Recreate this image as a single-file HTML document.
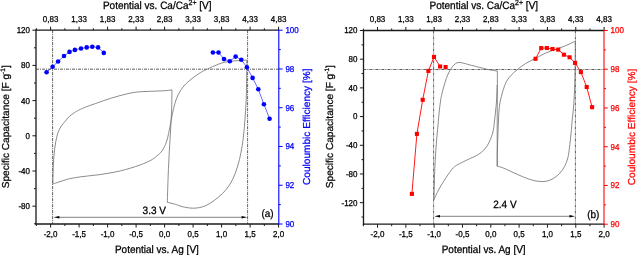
<!DOCTYPE html>
<html><head><meta charset="utf-8"><style>
html,body{margin:0;padding:0;background:#fff;width:637px;height:255px;overflow:hidden;}
body{position:relative;font-family:'Liberation Sans', sans-serif;}
</style></head><body>
<svg width="637" height="255" viewBox="0 0 637 255" style="position:absolute;left:0;top:0;font-family:'Liberation Sans', sans-serif;text-rendering:geometricPrecision;will-change:transform">
<line x1="36" y1="29.6" x2="36" y2="224.6" stroke="#1a1a1a" stroke-width="1.3" />
<line x1="35.4" y1="224" x2="278.8" y2="224" stroke="#1a1a1a" stroke-width="1.3" />
<line x1="35.4" y1="30.2" x2="278.8" y2="30.2" stroke="#1a1a1a" stroke-width="1.3" />
<line x1="50.6" y1="224" x2="50.6" y2="227.5" stroke="#1a1a1a" stroke-width="1.0" />
<line x1="50.6" y1="30.2" x2="50.6" y2="26.7" stroke="#1a1a1a" stroke-width="1.0" />
<text transform="translate(50.6,236.9) scale(1,1.07)" font-size="8" text-anchor="middle" fill="#000" stroke="#000" stroke-width="0.25" >-2,0</text>
<text transform="translate(50.6,22.1) scale(1,1.07)" font-size="8" text-anchor="middle" fill="#000" stroke="#000" stroke-width="0.25" >0,83</text>
<line x1="79.1" y1="224" x2="79.1" y2="227.5" stroke="#1a1a1a" stroke-width="1.0" />
<line x1="79.1" y1="30.2" x2="79.1" y2="26.7" stroke="#1a1a1a" stroke-width="1.0" />
<text transform="translate(79.1,236.9) scale(1,1.07)" font-size="8" text-anchor="middle" fill="#000" stroke="#000" stroke-width="0.25" >-1,5</text>
<text transform="translate(79.1,22.1) scale(1,1.07)" font-size="8" text-anchor="middle" fill="#000" stroke="#000" stroke-width="0.25" >1,33</text>
<line x1="107.6" y1="224" x2="107.6" y2="227.5" stroke="#1a1a1a" stroke-width="1.0" />
<line x1="107.6" y1="30.2" x2="107.6" y2="26.7" stroke="#1a1a1a" stroke-width="1.0" />
<text transform="translate(107.6,236.9) scale(1,1.07)" font-size="8" text-anchor="middle" fill="#000" stroke="#000" stroke-width="0.25" >-1,0</text>
<text transform="translate(107.6,22.1) scale(1,1.07)" font-size="8" text-anchor="middle" fill="#000" stroke="#000" stroke-width="0.25" >1,83</text>
<line x1="136.1" y1="224" x2="136.1" y2="227.5" stroke="#1a1a1a" stroke-width="1.0" />
<line x1="136.1" y1="30.2" x2="136.1" y2="26.7" stroke="#1a1a1a" stroke-width="1.0" />
<text transform="translate(136.1,236.9) scale(1,1.07)" font-size="8" text-anchor="middle" fill="#000" stroke="#000" stroke-width="0.25" >-0,5</text>
<text transform="translate(136.1,22.1) scale(1,1.07)" font-size="8" text-anchor="middle" fill="#000" stroke="#000" stroke-width="0.25" >2,33</text>
<line x1="164.6" y1="224" x2="164.6" y2="227.5" stroke="#1a1a1a" stroke-width="1.0" />
<line x1="164.6" y1="30.2" x2="164.6" y2="26.7" stroke="#1a1a1a" stroke-width="1.0" />
<text transform="translate(164.6,236.9) scale(1,1.07)" font-size="8" text-anchor="middle" fill="#000" stroke="#000" stroke-width="0.25" >0,0</text>
<text transform="translate(164.6,22.1) scale(1,1.07)" font-size="8" text-anchor="middle" fill="#000" stroke="#000" stroke-width="0.25" >2,83</text>
<line x1="193.1" y1="224" x2="193.1" y2="227.5" stroke="#1a1a1a" stroke-width="1.0" />
<line x1="193.1" y1="30.2" x2="193.1" y2="26.7" stroke="#1a1a1a" stroke-width="1.0" />
<text transform="translate(193.1,236.9) scale(1,1.07)" font-size="8" text-anchor="middle" fill="#000" stroke="#000" stroke-width="0.25" >0,5</text>
<text transform="translate(193.1,22.1) scale(1,1.07)" font-size="8" text-anchor="middle" fill="#000" stroke="#000" stroke-width="0.25" >3,33</text>
<line x1="221.6" y1="224" x2="221.6" y2="227.5" stroke="#1a1a1a" stroke-width="1.0" />
<line x1="221.6" y1="30.2" x2="221.6" y2="26.7" stroke="#1a1a1a" stroke-width="1.0" />
<text transform="translate(221.6,236.9) scale(1,1.07)" font-size="8" text-anchor="middle" fill="#000" stroke="#000" stroke-width="0.25" >1,0</text>
<text transform="translate(221.6,22.1) scale(1,1.07)" font-size="8" text-anchor="middle" fill="#000" stroke="#000" stroke-width="0.25" >3,83</text>
<line x1="250.1" y1="224" x2="250.1" y2="227.5" stroke="#1a1a1a" stroke-width="1.0" />
<line x1="250.1" y1="30.2" x2="250.1" y2="26.7" stroke="#1a1a1a" stroke-width="1.0" />
<text transform="translate(250.1,236.9) scale(1,1.07)" font-size="8" text-anchor="middle" fill="#000" stroke="#000" stroke-width="0.25" >1,5</text>
<text transform="translate(250.1,22.1) scale(1,1.07)" font-size="8" text-anchor="middle" fill="#000" stroke="#000" stroke-width="0.25" >4,33</text>
<line x1="278.6" y1="224" x2="278.6" y2="227.5" stroke="#1a1a1a" stroke-width="1.0" />
<line x1="278.6" y1="30.2" x2="278.6" y2="26.7" stroke="#1a1a1a" stroke-width="1.0" />
<text transform="translate(278.6,236.9) scale(1,1.07)" font-size="8" text-anchor="middle" fill="#000" stroke="#000" stroke-width="0.25" >2,0</text>
<text transform="translate(278.6,22.1) scale(1,1.07)" font-size="8" text-anchor="middle" fill="#000" stroke="#000" stroke-width="0.25" >4,83</text>
<line x1="36.35" y1="224" x2="36.35" y2="226" stroke="#1a1a1a" stroke-width="1.0" />
<line x1="36.35" y1="30.2" x2="36.35" y2="28.2" stroke="#1a1a1a" stroke-width="1.0" />
<line x1="64.85" y1="224" x2="64.85" y2="226" stroke="#1a1a1a" stroke-width="1.0" />
<line x1="64.85" y1="30.2" x2="64.85" y2="28.2" stroke="#1a1a1a" stroke-width="1.0" />
<line x1="93.35" y1="224" x2="93.35" y2="226" stroke="#1a1a1a" stroke-width="1.0" />
<line x1="93.35" y1="30.2" x2="93.35" y2="28.2" stroke="#1a1a1a" stroke-width="1.0" />
<line x1="121.85" y1="224" x2="121.85" y2="226" stroke="#1a1a1a" stroke-width="1.0" />
<line x1="121.85" y1="30.2" x2="121.85" y2="28.2" stroke="#1a1a1a" stroke-width="1.0" />
<line x1="150.35" y1="224" x2="150.35" y2="226" stroke="#1a1a1a" stroke-width="1.0" />
<line x1="150.35" y1="30.2" x2="150.35" y2="28.2" stroke="#1a1a1a" stroke-width="1.0" />
<line x1="178.85" y1="224" x2="178.85" y2="226" stroke="#1a1a1a" stroke-width="1.0" />
<line x1="178.85" y1="30.2" x2="178.85" y2="28.2" stroke="#1a1a1a" stroke-width="1.0" />
<line x1="207.35" y1="224" x2="207.35" y2="226" stroke="#1a1a1a" stroke-width="1.0" />
<line x1="207.35" y1="30.2" x2="207.35" y2="28.2" stroke="#1a1a1a" stroke-width="1.0" />
<line x1="235.85" y1="224" x2="235.85" y2="226" stroke="#1a1a1a" stroke-width="1.0" />
<line x1="235.85" y1="30.2" x2="235.85" y2="28.2" stroke="#1a1a1a" stroke-width="1.0" />
<line x1="264.35" y1="224" x2="264.35" y2="226" stroke="#1a1a1a" stroke-width="1.0" />
<line x1="264.35" y1="30.2" x2="264.35" y2="28.2" stroke="#1a1a1a" stroke-width="1.0" />
<line x1="32.4" y1="30.2" x2="36" y2="30.2" stroke="#1a1a1a" stroke-width="1.0" />
<text transform="translate(30,33.1) scale(1,1.07)" font-size="8" text-anchor="end" fill="#000" stroke="#000" stroke-width="0.25" >120</text>
<line x1="32.4" y1="65.4" x2="36" y2="65.4" stroke="#1a1a1a" stroke-width="1.0" />
<text transform="translate(30,68.3) scale(1,1.07)" font-size="8" text-anchor="end" fill="#000" stroke="#000" stroke-width="0.25" >80</text>
<line x1="32.4" y1="100.6" x2="36" y2="100.6" stroke="#1a1a1a" stroke-width="1.0" />
<text transform="translate(30,103.5) scale(1,1.07)" font-size="8" text-anchor="end" fill="#000" stroke="#000" stroke-width="0.25" >40</text>
<line x1="32.4" y1="135.8" x2="36" y2="135.8" stroke="#1a1a1a" stroke-width="1.0" />
<text transform="translate(30,138.7) scale(1,1.07)" font-size="8" text-anchor="end" fill="#000" stroke="#000" stroke-width="0.25" >0</text>
<line x1="32.4" y1="171" x2="36" y2="171" stroke="#1a1a1a" stroke-width="1.0" />
<text transform="translate(30,173.9) scale(1,1.07)" font-size="8" text-anchor="end" fill="#000" stroke="#000" stroke-width="0.25" >-40</text>
<line x1="32.4" y1="206.2" x2="36" y2="206.2" stroke="#1a1a1a" stroke-width="1.0" />
<text transform="translate(30,209.1) scale(1,1.07)" font-size="8" text-anchor="end" fill="#000" stroke="#000" stroke-width="0.25" >-80</text>
<line x1="34" y1="47.8" x2="36" y2="47.8" stroke="#1a1a1a" stroke-width="1.0" />
<line x1="34" y1="83" x2="36" y2="83" stroke="#1a1a1a" stroke-width="1.0" />
<line x1="34" y1="118.2" x2="36" y2="118.2" stroke="#1a1a1a" stroke-width="1.0" />
<line x1="34" y1="153.4" x2="36" y2="153.4" stroke="#1a1a1a" stroke-width="1.0" />
<line x1="34" y1="188.6" x2="36" y2="188.6" stroke="#1a1a1a" stroke-width="1.0" />
<line x1="34" y1="223.8" x2="36" y2="223.8" stroke="#1a1a1a" stroke-width="1.0" />
<line x1="278.8" y1="29.7" x2="278.8" y2="224.5" stroke="#0000ff" stroke-width="1.1" />
<line x1="278.8" y1="224" x2="282.6" y2="224" stroke="#0000ff" stroke-width="1.0" />
<text transform="translate(285.4,226.9) scale(1,1.07)" font-size="8" text-anchor="start" fill="#0000ff" stroke="#0000ff" stroke-width="0.25" >90</text>
<line x1="278.8" y1="185.24" x2="282.6" y2="185.24" stroke="#0000ff" stroke-width="1.0" />
<text transform="translate(285.4,188.14) scale(1,1.07)" font-size="8" text-anchor="start" fill="#0000ff" stroke="#0000ff" stroke-width="0.25" >92</text>
<line x1="278.8" y1="146.48" x2="282.6" y2="146.48" stroke="#0000ff" stroke-width="1.0" />
<text transform="translate(285.4,149.38) scale(1,1.07)" font-size="8" text-anchor="start" fill="#0000ff" stroke="#0000ff" stroke-width="0.25" >94</text>
<line x1="278.8" y1="107.72" x2="282.6" y2="107.72" stroke="#0000ff" stroke-width="1.0" />
<text transform="translate(285.4,110.62) scale(1,1.07)" font-size="8" text-anchor="start" fill="#0000ff" stroke="#0000ff" stroke-width="0.25" >96</text>
<line x1="278.8" y1="68.96" x2="282.6" y2="68.96" stroke="#0000ff" stroke-width="1.0" />
<text transform="translate(285.4,71.86) scale(1,1.07)" font-size="8" text-anchor="start" fill="#0000ff" stroke="#0000ff" stroke-width="0.25" >98</text>
<line x1="278.8" y1="30.2" x2="282.6" y2="30.2" stroke="#0000ff" stroke-width="1.0" />
<text transform="translate(285.4,33.1) scale(1,1.07)" font-size="8" text-anchor="start" fill="#0000ff" stroke="#0000ff" stroke-width="0.25" >100</text>
<line x1="278.8" y1="204.62" x2="280.8" y2="204.62" stroke="#0000ff" stroke-width="1.0" />
<line x1="278.8" y1="165.86" x2="280.8" y2="165.86" stroke="#0000ff" stroke-width="1.0" />
<line x1="278.8" y1="127.1" x2="280.8" y2="127.1" stroke="#0000ff" stroke-width="1.0" />
<line x1="278.8" y1="88.34" x2="280.8" y2="88.34" stroke="#0000ff" stroke-width="1.0" />
<line x1="278.8" y1="49.58" x2="280.8" y2="49.58" stroke="#0000ff" stroke-width="1.0" />
<line x1="363.5" y1="29.9" x2="363.5" y2="224.8" stroke="#1a1a1a" stroke-width="1.3" />
<line x1="362.9" y1="224.2" x2="604" y2="224.2" stroke="#1a1a1a" stroke-width="1.3" />
<line x1="362.9" y1="30.5" x2="604" y2="30.5" stroke="#1a1a1a" stroke-width="1.3" />
<line x1="377.5" y1="224.2" x2="377.5" y2="227.7" stroke="#1a1a1a" stroke-width="1.0" />
<line x1="377.5" y1="30.5" x2="377.5" y2="27" stroke="#1a1a1a" stroke-width="1.0" />
<text transform="translate(377.5,237.1) scale(1,1.07)" font-size="8" text-anchor="middle" fill="#000" stroke="#000" stroke-width="0.25" >-2,0</text>
<text transform="translate(377.5,22.4) scale(1,1.07)" font-size="8" text-anchor="middle" fill="#000" stroke="#000" stroke-width="0.25" >0,83</text>
<line x1="405.83" y1="224.2" x2="405.83" y2="227.7" stroke="#1a1a1a" stroke-width="1.0" />
<line x1="405.83" y1="30.5" x2="405.83" y2="27" stroke="#1a1a1a" stroke-width="1.0" />
<text transform="translate(405.83,237.1) scale(1,1.07)" font-size="8" text-anchor="middle" fill="#000" stroke="#000" stroke-width="0.25" >-1,5</text>
<text transform="translate(405.83,22.4) scale(1,1.07)" font-size="8" text-anchor="middle" fill="#000" stroke="#000" stroke-width="0.25" >1,33</text>
<line x1="434.15" y1="224.2" x2="434.15" y2="227.7" stroke="#1a1a1a" stroke-width="1.0" />
<line x1="434.15" y1="30.5" x2="434.15" y2="27" stroke="#1a1a1a" stroke-width="1.0" />
<text transform="translate(434.15,237.1) scale(1,1.07)" font-size="8" text-anchor="middle" fill="#000" stroke="#000" stroke-width="0.25" >-1,0</text>
<text transform="translate(434.15,22.4) scale(1,1.07)" font-size="8" text-anchor="middle" fill="#000" stroke="#000" stroke-width="0.25" >1,83</text>
<line x1="462.48" y1="224.2" x2="462.48" y2="227.7" stroke="#1a1a1a" stroke-width="1.0" />
<line x1="462.48" y1="30.5" x2="462.48" y2="27" stroke="#1a1a1a" stroke-width="1.0" />
<text transform="translate(462.48,237.1) scale(1,1.07)" font-size="8" text-anchor="middle" fill="#000" stroke="#000" stroke-width="0.25" >-0,5</text>
<text transform="translate(462.48,22.4) scale(1,1.07)" font-size="8" text-anchor="middle" fill="#000" stroke="#000" stroke-width="0.25" >2,33</text>
<line x1="490.8" y1="224.2" x2="490.8" y2="227.7" stroke="#1a1a1a" stroke-width="1.0" />
<line x1="490.8" y1="30.5" x2="490.8" y2="27" stroke="#1a1a1a" stroke-width="1.0" />
<text transform="translate(490.8,237.1) scale(1,1.07)" font-size="8" text-anchor="middle" fill="#000" stroke="#000" stroke-width="0.25" >0,0</text>
<text transform="translate(490.8,22.4) scale(1,1.07)" font-size="8" text-anchor="middle" fill="#000" stroke="#000" stroke-width="0.25" >2,83</text>
<line x1="519.12" y1="224.2" x2="519.12" y2="227.7" stroke="#1a1a1a" stroke-width="1.0" />
<line x1="519.12" y1="30.5" x2="519.12" y2="27" stroke="#1a1a1a" stroke-width="1.0" />
<text transform="translate(519.12,237.1) scale(1,1.07)" font-size="8" text-anchor="middle" fill="#000" stroke="#000" stroke-width="0.25" >0,5</text>
<text transform="translate(519.12,22.4) scale(1,1.07)" font-size="8" text-anchor="middle" fill="#000" stroke="#000" stroke-width="0.25" >3,33</text>
<line x1="547.45" y1="224.2" x2="547.45" y2="227.7" stroke="#1a1a1a" stroke-width="1.0" />
<line x1="547.45" y1="30.5" x2="547.45" y2="27" stroke="#1a1a1a" stroke-width="1.0" />
<text transform="translate(547.45,237.1) scale(1,1.07)" font-size="8" text-anchor="middle" fill="#000" stroke="#000" stroke-width="0.25" >1,0</text>
<text transform="translate(547.45,22.4) scale(1,1.07)" font-size="8" text-anchor="middle" fill="#000" stroke="#000" stroke-width="0.25" >3,83</text>
<line x1="575.77" y1="224.2" x2="575.77" y2="227.7" stroke="#1a1a1a" stroke-width="1.0" />
<line x1="575.77" y1="30.5" x2="575.77" y2="27" stroke="#1a1a1a" stroke-width="1.0" />
<text transform="translate(575.77,237.1) scale(1,1.07)" font-size="8" text-anchor="middle" fill="#000" stroke="#000" stroke-width="0.25" >1,5</text>
<text transform="translate(575.77,22.4) scale(1,1.07)" font-size="8" text-anchor="middle" fill="#000" stroke="#000" stroke-width="0.25" >4,33</text>
<line x1="604.1" y1="224.2" x2="604.1" y2="227.7" stroke="#1a1a1a" stroke-width="1.0" />
<line x1="604.1" y1="30.5" x2="604.1" y2="27" stroke="#1a1a1a" stroke-width="1.0" />
<text transform="translate(604.1,237.1) scale(1,1.07)" font-size="8" text-anchor="middle" fill="#000" stroke="#000" stroke-width="0.25" >2,0</text>
<text transform="translate(604.1,22.4) scale(1,1.07)" font-size="8" text-anchor="middle" fill="#000" stroke="#000" stroke-width="0.25" >4,83</text>
<line x1="363.34" y1="224.2" x2="363.34" y2="226.2" stroke="#1a1a1a" stroke-width="1.0" />
<line x1="363.34" y1="30.5" x2="363.34" y2="28.5" stroke="#1a1a1a" stroke-width="1.0" />
<line x1="391.66" y1="224.2" x2="391.66" y2="226.2" stroke="#1a1a1a" stroke-width="1.0" />
<line x1="391.66" y1="30.5" x2="391.66" y2="28.5" stroke="#1a1a1a" stroke-width="1.0" />
<line x1="419.99" y1="224.2" x2="419.99" y2="226.2" stroke="#1a1a1a" stroke-width="1.0" />
<line x1="419.99" y1="30.5" x2="419.99" y2="28.5" stroke="#1a1a1a" stroke-width="1.0" />
<line x1="448.31" y1="224.2" x2="448.31" y2="226.2" stroke="#1a1a1a" stroke-width="1.0" />
<line x1="448.31" y1="30.5" x2="448.31" y2="28.5" stroke="#1a1a1a" stroke-width="1.0" />
<line x1="476.64" y1="224.2" x2="476.64" y2="226.2" stroke="#1a1a1a" stroke-width="1.0" />
<line x1="476.64" y1="30.5" x2="476.64" y2="28.5" stroke="#1a1a1a" stroke-width="1.0" />
<line x1="504.96" y1="224.2" x2="504.96" y2="226.2" stroke="#1a1a1a" stroke-width="1.0" />
<line x1="504.96" y1="30.5" x2="504.96" y2="28.5" stroke="#1a1a1a" stroke-width="1.0" />
<line x1="533.29" y1="224.2" x2="533.29" y2="226.2" stroke="#1a1a1a" stroke-width="1.0" />
<line x1="533.29" y1="30.5" x2="533.29" y2="28.5" stroke="#1a1a1a" stroke-width="1.0" />
<line x1="561.61" y1="224.2" x2="561.61" y2="226.2" stroke="#1a1a1a" stroke-width="1.0" />
<line x1="561.61" y1="30.5" x2="561.61" y2="28.5" stroke="#1a1a1a" stroke-width="1.0" />
<line x1="589.94" y1="224.2" x2="589.94" y2="226.2" stroke="#1a1a1a" stroke-width="1.0" />
<line x1="589.94" y1="30.5" x2="589.94" y2="28.5" stroke="#1a1a1a" stroke-width="1.0" />
<line x1="359.9" y1="30.5" x2="363.5" y2="30.5" stroke="#1a1a1a" stroke-width="1.0" />
<text transform="translate(357.5,33.4) scale(1,1.07)" font-size="8" text-anchor="end" fill="#000" stroke="#000" stroke-width="0.25" >120</text>
<line x1="359.9" y1="59.2" x2="363.5" y2="59.2" stroke="#1a1a1a" stroke-width="1.0" />
<text transform="translate(357.5,62.1) scale(1,1.07)" font-size="8" text-anchor="end" fill="#000" stroke="#000" stroke-width="0.25" >80</text>
<line x1="359.9" y1="87.89" x2="363.5" y2="87.89" stroke="#1a1a1a" stroke-width="1.0" />
<text transform="translate(357.5,90.79) scale(1,1.07)" font-size="8" text-anchor="end" fill="#000" stroke="#000" stroke-width="0.25" >40</text>
<line x1="359.9" y1="116.59" x2="363.5" y2="116.59" stroke="#1a1a1a" stroke-width="1.0" />
<text transform="translate(357.5,119.49) scale(1,1.07)" font-size="8" text-anchor="end" fill="#000" stroke="#000" stroke-width="0.25" >0</text>
<line x1="359.9" y1="145.29" x2="363.5" y2="145.29" stroke="#1a1a1a" stroke-width="1.0" />
<text transform="translate(357.5,148.19) scale(1,1.07)" font-size="8" text-anchor="end" fill="#000" stroke="#000" stroke-width="0.25" >-40</text>
<line x1="359.9" y1="173.98" x2="363.5" y2="173.98" stroke="#1a1a1a" stroke-width="1.0" />
<text transform="translate(357.5,176.88) scale(1,1.07)" font-size="8" text-anchor="end" fill="#000" stroke="#000" stroke-width="0.25" >-80</text>
<line x1="359.9" y1="202.68" x2="363.5" y2="202.68" stroke="#1a1a1a" stroke-width="1.0" />
<text transform="translate(357.5,205.58) scale(1,1.07)" font-size="8" text-anchor="end" fill="#000" stroke="#000" stroke-width="0.25" >-120</text>
<line x1="361.5" y1="44.85" x2="363.5" y2="44.85" stroke="#1a1a1a" stroke-width="1.0" />
<line x1="361.5" y1="73.55" x2="363.5" y2="73.55" stroke="#1a1a1a" stroke-width="1.0" />
<line x1="361.5" y1="102.24" x2="363.5" y2="102.24" stroke="#1a1a1a" stroke-width="1.0" />
<line x1="361.5" y1="130.94" x2="363.5" y2="130.94" stroke="#1a1a1a" stroke-width="1.0" />
<line x1="361.5" y1="159.63" x2="363.5" y2="159.63" stroke="#1a1a1a" stroke-width="1.0" />
<line x1="361.5" y1="188.33" x2="363.5" y2="188.33" stroke="#1a1a1a" stroke-width="1.0" />
<line x1="361.5" y1="217.03" x2="363.5" y2="217.03" stroke="#1a1a1a" stroke-width="1.0" />
<line x1="604" y1="30" x2="604" y2="224.7" stroke="#ff0000" stroke-width="1.1" />
<line x1="604" y1="224.2" x2="607.8" y2="224.2" stroke="#ff0000" stroke-width="1.0" />
<text transform="translate(610.6,227.1) scale(1,1.07)" font-size="8" text-anchor="start" fill="#ff0000" stroke="#ff0000" stroke-width="0.25" >90</text>
<line x1="604" y1="185.46" x2="607.8" y2="185.46" stroke="#ff0000" stroke-width="1.0" />
<text transform="translate(610.6,188.36) scale(1,1.07)" font-size="8" text-anchor="start" fill="#ff0000" stroke="#ff0000" stroke-width="0.25" >92</text>
<line x1="604" y1="146.72" x2="607.8" y2="146.72" stroke="#ff0000" stroke-width="1.0" />
<text transform="translate(610.6,149.62) scale(1,1.07)" font-size="8" text-anchor="start" fill="#ff0000" stroke="#ff0000" stroke-width="0.25" >94</text>
<line x1="604" y1="107.98" x2="607.8" y2="107.98" stroke="#ff0000" stroke-width="1.0" />
<text transform="translate(610.6,110.88) scale(1,1.07)" font-size="8" text-anchor="start" fill="#ff0000" stroke="#ff0000" stroke-width="0.25" >96</text>
<line x1="604" y1="69.24" x2="607.8" y2="69.24" stroke="#ff0000" stroke-width="1.0" />
<text transform="translate(610.6,72.14) scale(1,1.07)" font-size="8" text-anchor="start" fill="#ff0000" stroke="#ff0000" stroke-width="0.25" >98</text>
<line x1="604" y1="30.5" x2="607.8" y2="30.5" stroke="#ff0000" stroke-width="1.0" />
<text transform="translate(610.6,33.4) scale(1,1.07)" font-size="8" text-anchor="start" fill="#ff0000" stroke="#ff0000" stroke-width="0.25" >100</text>
<line x1="604" y1="204.83" x2="606" y2="204.83" stroke="#ff0000" stroke-width="1.0" />
<line x1="604" y1="166.09" x2="606" y2="166.09" stroke="#ff0000" stroke-width="1.0" />
<line x1="604" y1="127.35" x2="606" y2="127.35" stroke="#ff0000" stroke-width="1.0" />
<line x1="604" y1="88.61" x2="606" y2="88.61" stroke="#ff0000" stroke-width="1.0" />
<line x1="604" y1="49.87" x2="606" y2="49.87" stroke="#ff0000" stroke-width="1.0" />
<line x1="52.6" y1="30.2" x2="52.6" y2="224" stroke="#333" stroke-width="0.8" stroke-dasharray="3,1,1,1"/>
<line x1="247.6" y1="30.2" x2="247.6" y2="224" stroke="#333" stroke-width="0.8" stroke-dasharray="3,1,1,1"/>
<line x1="36" y1="69.2" x2="278.8" y2="69.2" stroke="#333" stroke-width="0.8" stroke-dasharray="3,1,1,1"/>
<line x1="58.5" y1="217.3" x2="242" y2="217.3" stroke="#000" stroke-width="0.5" />
<path d="M53.6,217.3 L59.4,216.0 L59.4,218.6Z" fill="#000"/>
<path d="M247.2,217.3 L241.6,216.0 L241.6,218.6Z" fill="#000"/>
<text transform="translate(142.6,214) scale(1,1.07)" font-size="10" text-anchor="start" fill="#000" stroke="#000" stroke-width="0.25" >3.3 V</text>
<text transform="translate(261.4,216.8) scale(1,1.07)" font-size="10" text-anchor="start" fill="#000" stroke="#000" stroke-width="0.25" >(a)</text>
<path d="M52.8,184 C52.83,182.5 52.92,178 53,175 C53.08,172 53.17,168.92 53.3,166 C53.43,163.08 53.58,160.28 53.8,157.5 C54.02,154.72 54.25,152.03 54.6,149.3 C54.95,146.57 55.35,143.85 55.9,141.1 C56.45,138.35 57.02,135.28 57.9,132.8 C58.78,130.32 59.97,128.15 61.2,126.2 C62.43,124.25 63.93,122.73 65.3,121.1 C66.67,119.47 67.87,117.82 69.4,116.4 C70.93,114.98 72.93,113.63 74.5,112.6 C76.07,111.57 76.75,111.2 78.8,110.2 C80.85,109.2 83.98,107.72 86.8,106.6 C89.62,105.48 92.92,104.48 95.7,103.5 C98.48,102.52 100.88,101.6 103.5,100.7 C106.12,99.8 108.78,98.92 111.4,98.1 C114.02,97.28 116.58,96.52 119.2,95.8 C121.82,95.08 124.48,94.38 127.1,93.8 C129.72,93.22 132.28,92.67 134.9,92.3 C137.52,91.93 140.18,91.77 142.8,91.6 C145.42,91.43 147.98,91.4 150.6,91.3 C153.22,91.2 156.1,91.1 158.5,91 C160.9,90.9 162.75,90.88 165,90.7 C167.25,90.52 170.83,90.03 172,89.9" fill="none" stroke="#6e6e6e" stroke-width="0.8" stroke-linejoin="round"/>
<path d="M172,89.9 C171.93,93.25 171.83,103.32 171.6,110 C171.37,116.68 170.97,123.33 170.6,130 C170.23,136.67 169.8,142.5 169.4,150 C169,157.5 168.55,166.28 168.2,175 C167.85,183.72 167.45,197.75 167.3,202.3" fill="none" stroke="#6e6e6e" stroke-width="0.8" stroke-linejoin="round"/>
<path d="M167.3,202.3 C168.65,202.63 173.28,203.68 175.4,204.3 C177.52,204.92 178.35,205.5 180,206 C181.65,206.5 183.25,206.93 185.3,207.3 C187.35,207.67 189.95,208.15 192.3,208.2 C194.65,208.25 197.03,208.08 199.4,207.6 C201.77,207.12 204.07,206.47 206.5,205.3 C208.93,204.13 211.33,202.57 214,200.6 C216.67,198.63 219.92,196.1 222.5,193.5 C225.08,190.9 227.4,188.28 229.5,185 C231.6,181.72 233.45,178.02 235.1,173.8 C236.75,169.58 238.22,164.4 239.4,159.7 C240.58,155 241.5,149.72 242.2,145.6 C242.9,141.48 243.12,139.67 243.6,135 C244.08,130.33 244.67,123.43 245.1,117.6 C245.53,111.77 245.95,106.27 246.2,100 C246.45,93.73 246.5,86.67 246.6,80 C246.7,73.33 246.77,63.33 246.8,60" fill="none" stroke="#6e6e6e" stroke-width="0.8" stroke-linejoin="round"/>
<path d="M52.8,184 C53.42,183.8 55.3,183.2 56.5,182.8 C57.7,182.4 58.58,182.07 60,181.6 C61.42,181.13 63.32,180.5 65,180 C66.68,179.5 67.58,179.12 70.1,178.6 C72.62,178.08 76.75,177.38 80.1,176.9 C83.45,176.42 86.88,176.08 90.2,175.7 C93.52,175.32 96.67,175.07 100,174.6 C103.33,174.13 106.8,173.52 110.2,172.9 C113.6,172.28 117,171.7 120.4,170.9 C123.8,170.1 127.2,169.13 130.6,168.1 C134,167.07 137.4,166.02 140.8,164.7 C144.2,163.38 148.32,161.67 151,160.2 C153.68,158.73 155.05,157.47 156.9,155.9 C158.75,154.33 160.52,153.1 162.1,150.8 C163.68,148.5 165.32,144.98 166.4,142.1 C167.48,139.22 167.95,136.37 168.6,133.5 C169.25,130.63 169.8,127.48 170.3,124.9 C170.8,122.32 171.05,120.73 171.6,118 C172.15,115.27 172.8,111.7 173.6,108.5 C174.4,105.3 175.25,101.78 176.4,98.8 C177.55,95.82 178.9,93.12 180.5,90.6 C182.1,88.08 183.72,85.98 186,83.7 C188.28,81.42 191.45,78.95 194.2,76.9 C196.95,74.85 200.4,72.65 202.5,71.4 C204.6,70.15 205.12,70.2 206.8,69.4 C208.48,68.6 210.65,67.47 212.6,66.6 C214.55,65.73 216.53,64.92 218.5,64.2 C220.47,63.48 222.43,62.78 224.4,62.3 C226.37,61.82 228.33,61.57 230.3,61.3 C232.27,61.03 234.23,60.85 236.2,60.7 C238.17,60.55 240.33,60.52 242.1,60.4 C243.87,60.28 246.02,60.07 246.8,60" fill="none" stroke="#6e6e6e" stroke-width="0.8" stroke-linejoin="round"/>
<polyline points="46.6,72.2 52.6,66.8 58.1,61.5 64,56 69.5,51.9 74.9,49.9 81,48.5 86.7,47.4 92.3,46.7 98.1,47.4 103.8,52.9" fill="none" stroke="#0000ff" stroke-width="0.6"/>
<circle cx="46.6" cy="72.2" r="2.3" fill="#0000ff"/>
<circle cx="52.6" cy="66.8" r="2.3" fill="#0000ff"/>
<circle cx="58.1" cy="61.5" r="2.3" fill="#0000ff"/>
<circle cx="64" cy="56" r="2.3" fill="#0000ff"/>
<circle cx="69.5" cy="51.9" r="2.3" fill="#0000ff"/>
<circle cx="74.9" cy="49.9" r="2.3" fill="#0000ff"/>
<circle cx="81" cy="48.5" r="2.3" fill="#0000ff"/>
<circle cx="86.7" cy="47.4" r="2.3" fill="#0000ff"/>
<circle cx="92.3" cy="46.7" r="2.3" fill="#0000ff"/>
<circle cx="98.1" cy="47.4" r="2.3" fill="#0000ff"/>
<circle cx="103.8" cy="52.9" r="2.3" fill="#0000ff"/>
<polyline points="212.9,52.5 218.5,52.5 224,59.1 229.8,61.2 235.6,56.6 241.3,59.8 246.9,67.3 252.6,77.9 258.3,89.2 263.9,104.2 269.6,118.7" fill="none" stroke="#0000ff" stroke-width="0.6"/>
<circle cx="212.9" cy="52.5" r="2.3" fill="#0000ff"/>
<circle cx="218.5" cy="52.5" r="2.3" fill="#0000ff"/>
<circle cx="224" cy="59.1" r="2.3" fill="#0000ff"/>
<circle cx="229.8" cy="61.2" r="2.3" fill="#0000ff"/>
<circle cx="235.6" cy="56.6" r="2.3" fill="#0000ff"/>
<circle cx="241.3" cy="59.8" r="2.3" fill="#0000ff"/>
<circle cx="246.9" cy="67.3" r="2.3" fill="#0000ff"/>
<circle cx="252.6" cy="77.9" r="2.3" fill="#0000ff"/>
<circle cx="258.3" cy="89.2" r="2.3" fill="#0000ff"/>
<circle cx="263.9" cy="104.2" r="2.3" fill="#0000ff"/>
<circle cx="269.6" cy="118.7" r="2.3" fill="#0000ff"/>
<text transform="translate(102.9,9.3) scale(1,1.07)" font-size="10" text-anchor="start" fill="#000" stroke="#000" stroke-width="0.25" >Potential vs. Ca/Ca<tspan font-size="7" dy="-4.4">2+</tspan><tspan dy="4.4"> [V]</tspan></text>
<text transform="translate(114.9,252.5) scale(1,1.07)" font-size="10" text-anchor="start" fill="#000" stroke="#000" stroke-width="0.25" >Potential vs. Ag [V]</text>
<text transform="translate(8.9,126.8) rotate(-90)" font-size="10.1" text-anchor="middle" stroke="#000" stroke-width="0.25">Specific Capacitance [F g<tspan font-size="6.5" dy="-3.5">-1</tspan><tspan dy="3.5">]</tspan></text>
<text transform="translate(310,126.7) rotate(-90)" font-size="10.1" text-anchor="middle" fill="#0000ff" stroke="#0000ff" stroke-width="0.25">Couloumbic Efficiency [%]</text>
<line x1="433.6" y1="30.5" x2="433.6" y2="224.2" stroke="#333" stroke-width="0.8" stroke-dasharray="3,1,1,1"/>
<line x1="575.4" y1="30.5" x2="575.4" y2="224.2" stroke="#333" stroke-width="0.8" stroke-dasharray="3,1,1,1"/>
<line x1="363.4" y1="69.5" x2="604" y2="69.5" stroke="#333" stroke-width="0.8" stroke-dasharray="3,1,1,1"/>
<line x1="439.5" y1="216.3" x2="569.5" y2="216.3" stroke="#000" stroke-width="0.5" />
<path d="M434.4,216.3 L440.0,215.0 L440.0,217.6Z" fill="#000"/>
<path d="M575.0,216.3 L569.4,215.0 L569.4,217.6Z" fill="#000"/>
<text transform="translate(493.2,208.2) scale(1,1.07)" font-size="10" text-anchor="start" fill="#000" stroke="#000" stroke-width="0.25" >2.4 V</text>
<text transform="translate(587.2,218.1) scale(1,1.07)" font-size="10" text-anchor="start" fill="#000" stroke="#000" stroke-width="0.25" >(b)</text>
<path d="M434,199.5 C434.05,197.08 434.18,189.8 434.3,185 C434.42,180.2 434.5,175.7 434.7,170.7 C434.9,165.7 435.18,160.12 435.5,155 C435.82,149.88 436.18,145 436.6,140 C437.02,135 437.53,130 438,125 C438.47,120 438.95,114.17 439.4,110 C439.85,105.83 440.35,102.38 440.7,100 C441.05,97.62 441.05,97.68 441.5,95.7 C441.95,93.72 442.62,90.93 443.4,88.1 C444.18,85.27 445.25,81.37 446.2,78.7 C447.15,76.03 448.15,73.98 449.1,72.1 C450.05,70.22 450.83,68.82 451.9,67.4 C452.97,65.98 454.3,64.43 455.5,63.6 C456.7,62.77 457.68,62.45 459.1,62.4 C460.52,62.35 462.28,62.9 464,63.3 C465.72,63.7 466.87,64.13 469.4,64.8 C471.93,65.47 475.93,66.48 479.2,67.3 C482.47,68.12 485.97,69.08 489,69.7 C492.03,70.32 496,70.78 497.4,71" fill="none" stroke="#6e6e6e" stroke-width="0.8" stroke-linejoin="round"/>
<path d="M497.4,71 C497.38,75.83 497.33,90.17 497.3,100 C497.27,109.83 497.22,118.97 497.2,130 C497.18,141.03 497.2,160.17 497.2,166.2" fill="none" stroke="#6e6e6e" stroke-width="0.8" stroke-linejoin="round"/>
<path d="M497.2,85 C497.1,87.5 496.85,95.83 496.6,100 C496.35,104.17 496.03,106.67 495.7,110 C495.37,113.33 495.1,116.18 494.6,120 C494.1,123.82 493.93,128.6 492.7,132.9 C491.47,137.2 489.45,142.3 487.2,145.8 C484.95,149.3 482.68,151.48 479.2,153.9 C475.72,156.32 469.83,158.53 466.3,160.3 C462.77,162.07 460.15,163.27 458,164.5 C455.85,165.73 454.98,166.12 453.4,167.7 C451.82,169.28 450.12,171.73 448.5,174 C446.88,176.27 445.37,178.63 443.7,181.3 C442.03,183.97 440.12,186.97 438.5,190 C436.88,193.03 434.75,197.92 434,199.5" fill="none" stroke="#6e6e6e" stroke-width="0.8" stroke-linejoin="round"/>
<path d="M497.2,166.2 C497.23,163.5 497.28,155.2 497.4,150 C497.52,144.8 497.73,139.67 497.9,135 C498.07,130.33 498.23,125.83 498.4,122 C498.57,118.17 498.63,115.27 498.9,112 C499.17,108.73 499.32,105.97 500,102.4 C500.68,98.83 501.9,94.13 503,90.6 C504.1,87.07 505.07,83.95 506.6,81.2 C508.13,78.45 510.37,76.07 512.2,74.1 C514.03,72.13 515.38,71.15 517.6,69.4 C519.82,67.65 522.55,65.42 525.5,63.6 C528.45,61.78 532.03,60.22 535.3,58.5 C538.57,56.78 541.83,54.78 545.1,53.3 C548.37,51.82 551.63,50.8 554.9,49.6 C558.17,48.4 561.28,47.5 564.7,46.1 C568.12,44.7 573.62,42.02 575.4,41.2" fill="none" stroke="#6e6e6e" stroke-width="0.8" stroke-linejoin="round"/>
<path d="M575.4,41.2 C575.38,43.5 575.35,50.2 575.3,55 C575.25,59.8 575.2,65 575.1,70 C575,75 574.85,80.5 574.7,85 C574.55,89.5 574.43,92.83 574.2,97 C573.97,101.17 573.63,106.17 573.3,110 C572.97,113.83 572.57,116.17 572.2,120 C571.83,123.83 571.57,128.33 571.1,133 C570.63,137.67 569.93,143.9 569.4,148 C568.87,152.1 568.7,154.52 567.9,157.6 C567.1,160.68 565.97,163.88 564.6,166.5 C563.23,169.12 561.5,171.35 559.7,173.3 C557.9,175.25 555.77,176.95 553.8,178.2 C551.83,179.45 549.85,180.23 547.9,180.8 C545.95,181.37 544.38,181.63 542.1,181.6 C539.82,181.57 536.82,181.17 534.2,180.6 C531.58,180.03 529.02,179.15 526.4,178.2 C523.78,177.25 521.12,176.03 518.5,174.9 C515.88,173.77 513.32,172.58 510.7,171.4 C508.08,170.22 505.05,168.67 502.8,167.8 C500.55,166.93 498.13,166.47 497.2,166.2" fill="none" stroke="#6e6e6e" stroke-width="0.8" stroke-linejoin="round"/>
<polyline points="411.9,193.9 416.9,133.9 422.7,99.8 428.4,70.9 434,56.9 440.1,66.5" fill="none" stroke="#ff0000" stroke-width="0.9"/>
<rect x="409.85" y="191.85" width="4.1" height="4.1" fill="#ff0000"/>
<rect x="414.85" y="131.85" width="4.1" height="4.1" fill="#ff0000"/>
<rect x="420.65" y="97.75" width="4.1" height="4.1" fill="#ff0000"/>
<rect x="426.35" y="68.85" width="4.1" height="4.1" fill="#ff0000"/>
<rect x="431.95" y="54.85" width="4.1" height="4.1" fill="#ff0000"/>
<rect x="438.05" y="64.45" width="4.1" height="4.1" fill="#ff0000"/>
<rect x="443.55" y="64.95" width="4.1" height="4.1" fill="#ff0000"/>
<polyline points="535.5,58.8 541.2,48.1 546.9,48 552.5,49 558.2,49.6 563.9,54.7 569.6,57.3 575.1,62.9 580.9,72.1 586.7,87 592.1,107.2" fill="none" stroke="#ff0000" stroke-width="0.9"/>
<rect x="533.45" y="56.75" width="4.1" height="4.1" fill="#ff0000"/>
<rect x="539.15" y="46.05" width="4.1" height="4.1" fill="#ff0000"/>
<rect x="544.85" y="45.95" width="4.1" height="4.1" fill="#ff0000"/>
<rect x="550.45" y="46.95" width="4.1" height="4.1" fill="#ff0000"/>
<rect x="556.15" y="47.55" width="4.1" height="4.1" fill="#ff0000"/>
<rect x="561.85" y="52.65" width="4.1" height="4.1" fill="#ff0000"/>
<rect x="567.55" y="55.25" width="4.1" height="4.1" fill="#ff0000"/>
<rect x="573.05" y="60.85" width="4.1" height="4.1" fill="#ff0000"/>
<rect x="578.85" y="70.05" width="4.1" height="4.1" fill="#ff0000"/>
<rect x="584.65" y="84.95" width="4.1" height="4.1" fill="#ff0000"/>
<rect x="590.05" y="105.15" width="4.1" height="4.1" fill="#ff0000"/>
<text transform="translate(429.5,9.3) scale(1,1.07)" font-size="10" text-anchor="start" fill="#000" stroke="#000" stroke-width="0.25" >Potential vs. Ca/Ca<tspan font-size="7" dy="-4.4">2+</tspan><tspan dy="4.4"> [V]</tspan></text>
<text transform="translate(441.7,252.5) scale(1,1.07)" font-size="10" text-anchor="start" fill="#000" stroke="#000" stroke-width="0.25" >Potential vs. Ag [V]</text>
<text transform="translate(332.9,126.7) rotate(-90)" font-size="10.1" text-anchor="middle" stroke="#000" stroke-width="0.25">Specific Capacitance [F g<tspan font-size="6.5" dy="-3.5">-1</tspan><tspan dy="3.5">]</tspan></text>
<text transform="translate(634.7,127) rotate(-90)" font-size="10.1" text-anchor="middle" fill="#ff0000" stroke="#ff0000" stroke-width="0.25">Couloumbic Efficiency [%]</text>
</svg>
</body></html>
